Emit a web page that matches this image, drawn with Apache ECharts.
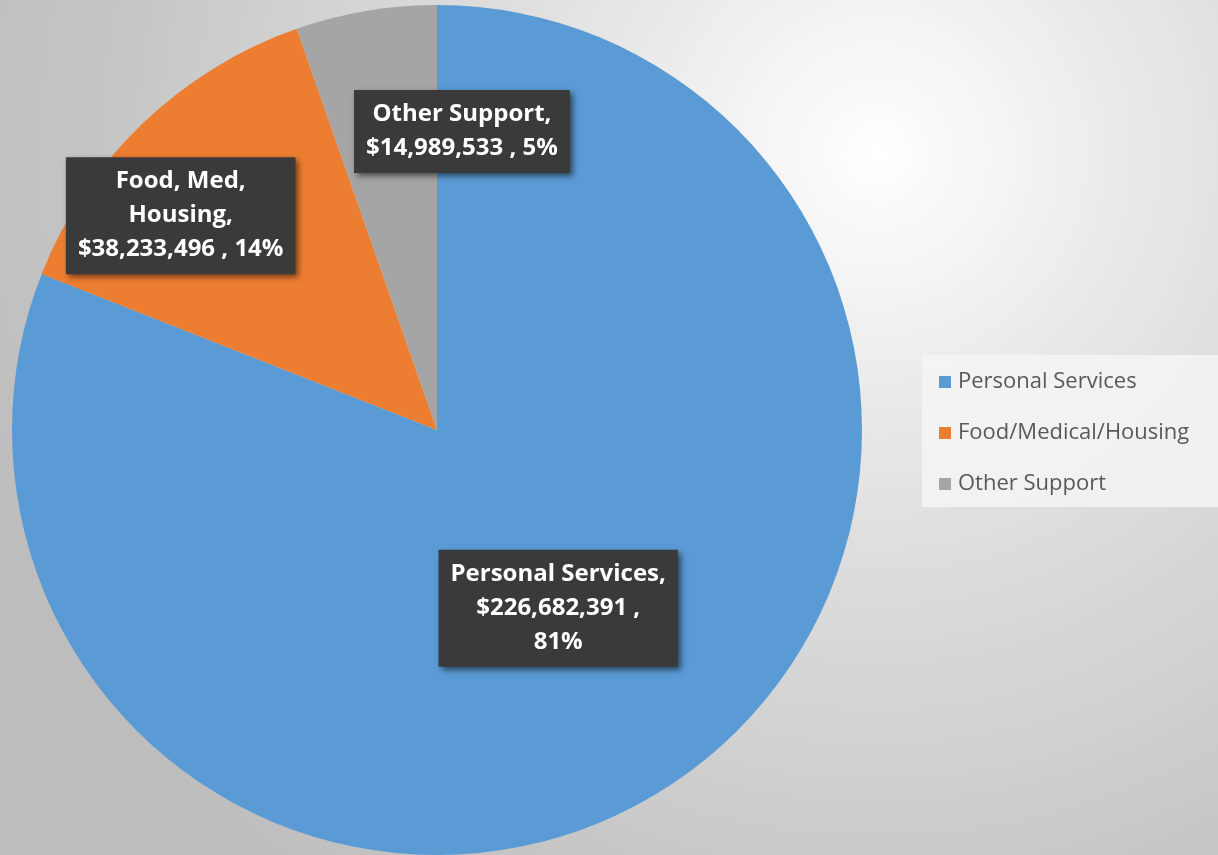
<!DOCTYPE html>
<html>
<head>
<meta charset="utf-8">
<script src="https://cdn.jsdelivr.net/npm/echarts@6/dist/echarts.min.js"></script>
<style>
  html, body { margin: 0; padding: 0; }
  #chart {
    width: 1218px; height: 855px;
    background: radial-gradient(circle at 877px 154px, #ffffff 0px, #f2f2f2 150px, #dfdfdf 380px, #c5c5c5 780px, #bdbdbd 950px);
  }
</style>
</head>
<body>
<div id="chart"></div>
<script>
const categories = ['Personal Services', 'Food/Medical/Housing', 'Other Support'];
const values = [226682391, 38233496, 14989533];
const labelNames = ['Personal Services', 'Food, Med,\nHousing', 'Other Support'];
const labelSeparators = [' ,\n', ' , ', ' , '];
const colors = ['#5b9bd5', '#ed7d31', '#a5a5a5'];
const labelShift = [[0, 0], [-107, -59], [61, -86]];

const chart = echarts.init(document.getElementById('chart'), null, { renderer: 'canvas' });

const option = {
  animation: false,
  backgroundColor: 'transparent',
  legend: {
    orient: 'vertical',
    left: 922,
    top: 355,
    padding: [16, 40, 12, 17],
    backgroundColor: 'rgba(244,244,244,0.85)',
    itemWidth: 12,
    itemHeight: 12,
    itemGap: 29,
    icon: 'rect',
    textStyle: { fontFamily: 'Open Sans', fontSize: 22, lineHeight: 22, color: '#595959', padding: [0, 0, 0, 2] },
    data: categories
  },
  series: [{
    type: 'pie',
    center: [437, 430],
    radius: [0, 425],
    startAngle: 90,
    clockwise: true,
    percentPrecision: 0,
    silent: true,
    data: categories.map((c, i) => ({ name: c, value: values[i], itemStyle: { color: colors[i] } })),
    label: {
      show: true,
      position: 'inside',
      formatter: function (p) {
        const i = p.dataIndex;
        return labelNames[i] + ',\n$' + values[i].toLocaleString('en-US') + labelSeparators[i] + p.percent + '%';
      },
      fontFamily: 'Open Sans',
      fontWeight: 'bold',
      fontSize: 24,
      lineHeight: 34,
      color: '#ffffff',
      align: 'center',
      backgroundColor: '#3a3a3a',
      padding: [8, 12, 7, 12],
      shadowColor: 'rgba(0,0,0,0.55)',
      shadowBlur: 6,
      shadowOffsetX: 3,
      shadowOffsetY: 3
    },
    labelLine: { show: false },
    labelLayout: function (params) {
      const s = labelShift[params.dataIndex];
      return { dx: s[0], dy: s[1] };
    }
  }]
};
chart.setOption(option);
</script>
</body>
</html>
